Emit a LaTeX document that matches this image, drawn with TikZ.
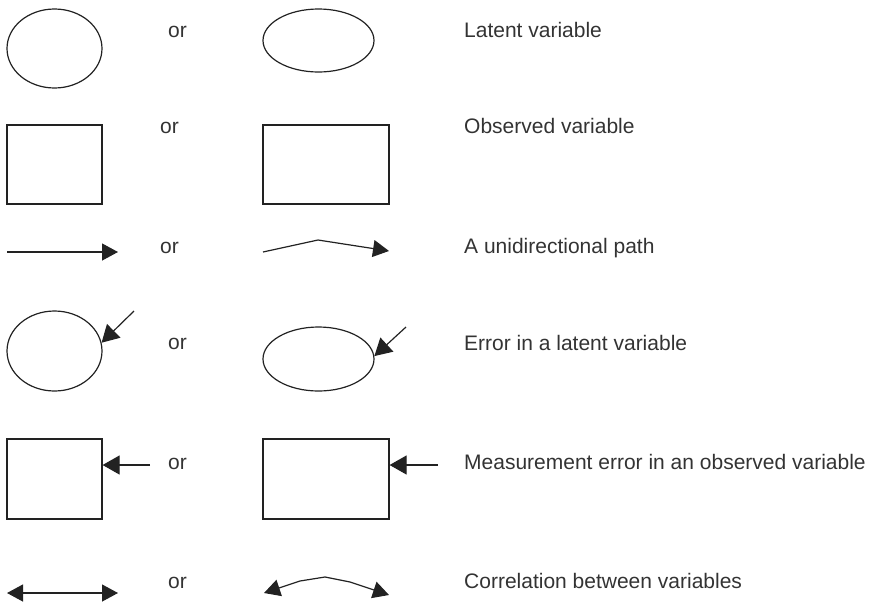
\documentclass[tikz,border=0pt]{standalone}
\usepackage{fontspec}
\setmainfont{Liberation Sans}
\usetikzlibrary{shapes.geometric,arrows.meta}

\definecolor{ink}{HTML}{222222}
\definecolor{txt}{HTML}{333333}

\tikzset{
  oval/.style={draw=ink, line width=1.2pt, ellipse, inner sep=0pt},
  box/.style={draw=ink, line width=1.2pt, rectangle, inner sep=0pt},
  link/.style={draw=ink, line width=1.2pt, -{Triangle[length=16pt,width=17pt]}},
  errlink/.style={draw=ink, line width=1.2pt, -{Triangle[length=17pt,width=19pt]}},
  bilink/.style={draw=ink, line width=1.2pt, {Triangle[length=16pt,width=17pt]}-{Triangle[length=16pt,width=17pt]}},
  ortext/.style={anchor=base west, inner sep=0pt, text=txt, font=\fontsize{21}{25}\selectfont},
  label/.style={anchor=base west, inner sep=0pt, text=txt, font=\fontsize{21}{25}\selectfont}
}

\begin{document}
\begin{tikzpicture}[x=1pt, y=-1pt]
\useasboundingbox (0,0) rectangle (875,603);

% row 1: latent variable
\node[oval, minimum width=95pt, minimum height=79pt] (lat1) at (54.5,48.5) {};
\node[ortext] (or1) at (168,37) {or};
\node[oval, minimum width=111pt, minimum height=63pt] (lat2) at (318.5,40.5) {};
\node[label] (t1) at (464,37) {Latent variable};

% row 2: observed variable
\node[box, minimum width=95pt, minimum height=79pt] (obs1) at (54.5,164.5) {};
\node[ortext] (or2) at (160,133) {or};
\node[box, minimum width=126pt, minimum height=79pt] (obs2) at (326,164.5) {};
\node[label] (t2) at (464,133) {Observed variable};

% row 3: unidirectional path
\coordinate (p1a) at (7,252);
\coordinate (p1b) at (118,252);
\draw[link] (p1a) -- (p1b);
\node[ortext] (or3) at (160,253) {or};
\coordinate (p2a) at (263,252);
\coordinate (p2m) at (318,240);
\coordinate (p2b) at (389,251);
\draw[link] (p2a) -- (p2m) -- (p2b);
\node[label] (t3) at (464,253) {A unidirectional path};

% row 4: error in a latent variable
\node[oval, minimum width=95pt, minimum height=80pt] (elat1) at (54.5,351) {};
\coordinate (e1) at (134,311);
\draw[errlink] (e1) -- (elat1.10);
\node[ortext] (or4) at (168,349) {or};
\node[oval, minimum width=111pt, minimum height=64pt] (elat2) at (318.5,359) {};
\coordinate (e2) at (406,327);
\draw[errlink] (e2) -- (elat2.3);
\node[label] (t4) at (464,350) {Error in a latent variable};

% row 5: measurement error in an observed variable
\node[box, minimum width=95pt, minimum height=80pt] (eobs1) at (54.5,479) {};
\coordinate (m1) at (150,465);
\draw[errlink] (m1) -- (m1 -| eobs1.east);
\node[ortext] (or5) at (168,469) {or};
\node[box, minimum width=126pt, minimum height=80pt] (eobs2) at (326,479) {};
\coordinate (m2) at (438,465);
\draw[errlink] (m2) -- (m2 -| eobs2.east);
\node[label] (t5) at (464,469) {Measurement error in an observed variable};

% row 6: correlation
\coordinate (c1a) at (7,593);
\coordinate (c1b) at (118,593);
\draw[bilink] (c1a) -- (c1b);
\node[ortext] (or6) at (168,588) {or};
\coordinate (c2a) at (264,593);
\coordinate (c2m1) at (300,581);
\coordinate (c2m2) at (325,577);
\coordinate (c2m3) at (350,582);
\coordinate (c2b) at (389,595);
\draw[bilink] (c2a) -- (c2m1) -- (c2m2) -- (c2m3) -- (c2b);
\node[label] (t6) at (464,588) {Correlation between variables};
\end{tikzpicture}
\end{document}
